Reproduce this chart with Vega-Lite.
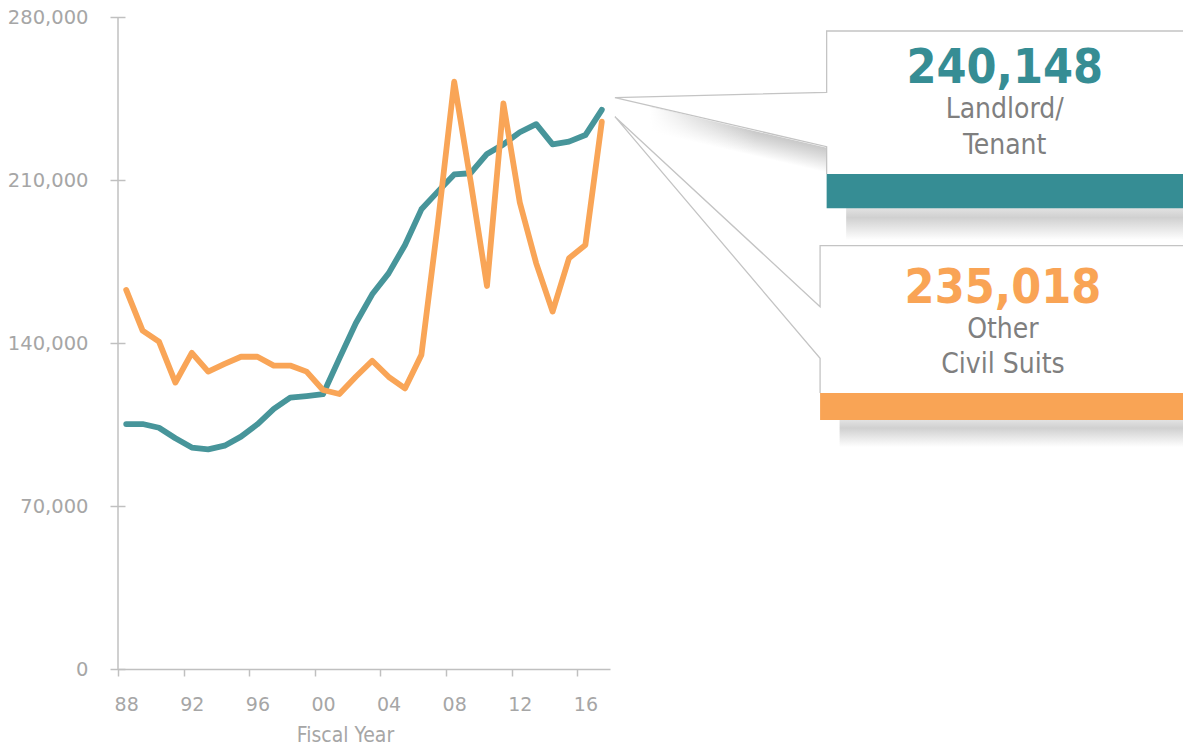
{
  "$schema": "https://vega.github.io/schema/vega-lite/v6.json",
  "width": 492,
  "height": 652,
  "autosize": {"type": "none"},
  "padding": {"left": 118, "top": 17, "right": 573, "bottom": 77},
  "background": "#ffffff",
  "config": {"view": {"stroke": null}},
  "datasets": {
    "cases": [
      {"year": 1988, "series": "Landlord/Tenant", "value": 105200},
      {"year": 1989, "series": "Landlord/Tenant", "value": 105200},
      {"year": 1990, "series": "Landlord/Tenant", "value": 103600},
      {"year": 1991, "series": "Landlord/Tenant", "value": 99100},
      {"year": 1992, "series": "Landlord/Tenant", "value": 95100},
      {"year": 1993, "series": "Landlord/Tenant", "value": 94300},
      {"year": 1994, "series": "Landlord/Tenant", "value": 95900},
      {"year": 1995, "series": "Landlord/Tenant", "value": 99800},
      {"year": 1996, "series": "Landlord/Tenant", "value": 105100},
      {"year": 1997, "series": "Landlord/Tenant", "value": 111700},
      {"year": 1998, "series": "Landlord/Tenant", "value": 116500},
      {"year": 1999, "series": "Landlord/Tenant", "value": 117200},
      {"year": 2000, "series": "Landlord/Tenant", "value": 118000},
      {"year": 2001, "series": "Landlord/Tenant", "value": 133400},
      {"year": 2002, "series": "Landlord/Tenant", "value": 148500},
      {"year": 2003, "series": "Landlord/Tenant", "value": 160900},
      {"year": 2004, "series": "Landlord/Tenant", "value": 169900},
      {"year": 2005, "series": "Landlord/Tenant", "value": 182100},
      {"year": 2006, "series": "Landlord/Tenant", "value": 197400},
      {"year": 2007, "series": "Landlord/Tenant", "value": 205000},
      {"year": 2008, "series": "Landlord/Tenant", "value": 212400},
      {"year": 2009, "series": "Landlord/Tenant", "value": 212900},
      {"year": 2010, "series": "Landlord/Tenant", "value": 221200},
      {"year": 2011, "series": "Landlord/Tenant", "value": 225300},
      {"year": 2012, "series": "Landlord/Tenant", "value": 230500},
      {"year": 2013, "series": "Landlord/Tenant", "value": 234000},
      {"year": 2014, "series": "Landlord/Tenant", "value": 225300},
      {"year": 2015, "series": "Landlord/Tenant", "value": 226500},
      {"year": 2016, "series": "Landlord/Tenant", "value": 229300},
      {"year": 2017, "series": "Landlord/Tenant", "value": 240148},
      {"year": 1988, "series": "Other Civil Suits", "value": 162800},
      {"year": 1989, "series": "Other Civil Suits", "value": 145300},
      {"year": 1990, "series": "Other Civil Suits", "value": 140600},
      {"year": 1991, "series": "Other Civil Suits", "value": 123000},
      {"year": 1992, "series": "Other Civil Suits", "value": 135800},
      {"year": 1993, "series": "Other Civil Suits", "value": 127700},
      {"year": 1994, "series": "Other Civil Suits", "value": 131000},
      {"year": 1995, "series": "Other Civil Suits", "value": 134100},
      {"year": 1996, "series": "Other Civil Suits", "value": 134100},
      {"year": 1997, "series": "Other Civil Suits", "value": 130300},
      {"year": 1998, "series": "Other Civil Suits", "value": 130300},
      {"year": 1999, "series": "Other Civil Suits", "value": 127700},
      {"year": 2000, "series": "Other Civil Suits", "value": 119800},
      {"year": 2001, "series": "Other Civil Suits", "value": 118100},
      {"year": 2002, "series": "Other Civil Suits", "value": 125500},
      {"year": 2003, "series": "Other Civil Suits", "value": 132400},
      {"year": 2004, "series": "Other Civil Suits", "value": 125500},
      {"year": 2005, "series": "Other Civil Suits", "value": 120500},
      {"year": 2006, "series": "Other Civil Suits", "value": 134900},
      {"year": 2007, "series": "Other Civil Suits", "value": 191200},
      {"year": 2008, "series": "Other Civil Suits", "value": 252200},
      {"year": 2009, "series": "Other Civil Suits", "value": 209500},
      {"year": 2010, "series": "Other Civil Suits", "value": 164500},
      {"year": 2011, "series": "Other Civil Suits", "value": 242900},
      {"year": 2012, "series": "Other Civil Suits", "value": 200300},
      {"year": 2013, "series": "Other Civil Suits", "value": 174200},
      {"year": 2014, "series": "Other Civil Suits", "value": 153500},
      {"year": 2015, "series": "Other Civil Suits", "value": 176400},
      {"year": 2016, "series": "Other Civil Suits", "value": 182100},
      {"year": 2017, "series": "Other Civil Suits", "value": 235018}
    ],
    "axisline": [
      {"year": 1987.5, "value": 0, "value2": 280000}
    ],
    "outline": [
      {"box": "Landlord/Tenant", "step": 1, "year": 2030.71, "value": 212577},
      {"box": "Landlord/Tenant", "step": 2, "year": 2030.71, "value": 224301},
      {"box": "Landlord/Tenant", "step": 3, "year": 2017.8, "value": 245344},
      {"box": "Landlord/Tenant", "step": 4, "year": 2030.71, "value": 247663},
      {"box": "Landlord/Tenant", "step": 5, "year": 2030.71, "value": 273988},
      {"box": "Landlord/Tenant", "step": 6, "year": 2053, "value": 273988},
      {"box": "Other Civil Suits", "step": 1, "year": 2030.31, "value": 118528},
      {"box": "Other Civil Suits", "step": 2, "year": 2030.31, "value": 133429},
      {"box": "Other Civil Suits", "step": 3, "year": 2017.8, "value": 237185},
      {"box": "Other Civil Suits", "step": 4, "year": 2030.31, "value": 155589},
      {"box": "Other Civil Suits", "step": 5, "year": 2030.31, "value": 181785},
      {"box": "Other Civil Suits", "step": 6, "year": 2053, "value": 181785}
    ],
    "bars": [
      {"series": "Landlord/Tenant", "year": 2030.71, "year2": 2053, "value": 197847, "value2": 212577},
      {"series": "Other Civil Suits", "year": 2030.31, "year2": 2053, "value": 106933, "value2": 118528}
    ],
    "barshadows": [
      {"series": "Landlord/Tenant", "year": 2031.9, "year2": 2053, "value": 184233, "value2": 197976},
      {"series": "Other Civil Suits", "year": 2031.5, "year2": 2053, "value": 95337, "value2": 106933}
    ],
    "pointershadow": [
      {"year": 2019.94, "value": 241436, "value2": 230699},
      {"year": 2030.71, "value": 223871, "value2": 213135}
    ],
    "callouttext": [
      {"series": "Landlord/Tenant", "kind": "number", "year": 2041.57, "value": 251528, "text": "240,148"},
      {"series": "Landlord/Tenant", "kind": "label", "year": 2041.57, "value": 236626, "text": "Landlord/"},
      {"series": "Landlord/Tenant", "kind": "label", "year": 2041.57, "value": 221166, "text": "Tenant"},
      {"series": "Other Civil Suits", "kind": "number", "year": 2041.46, "value": 157307, "text": "235,018"},
      {"series": "Other Civil Suits", "kind": "label", "year": 2041.46, "value": 142018, "text": "Other"},
      {"series": "Other Civil Suits", "kind": "label", "year": 2041.46, "value": 126988, "text": "Civil Suits"}
    ]
  },
  "encoding": {
    "x": {
      "field": "year", "type": "quantitative",
      "scale": {"domain": [1987.5, 2017.5], "nice": false, "zero": false},
      "axis": {
        "values": [1988, 1992, 1996, 2000, 2004, 2008, 2012, 2016],
        "labelExpr": "slice('0' + (datum.value % 100), -2)",
        "grid": false,
        "tickOffset": -8.2,
        "labelOffset": 8.2,
        "tickSize": 7,
        "tickColor": "#c0c0c0",
        "tickWidth": 1.5,
        "domainColor": "#c0c0c0",
        "domainWidth": 1.5,
        "labelFont": "DejaVu Sans",
        "labelFontSize": 19,
        "labelColor": "#a6a6a6",
        "labelBaseline": "alphabetic",
        "labelPadding": 34,
        "labelFlush": false,
        "labelOverlap": false,
        "title": "Fiscal Year",
        "titleFont": "DejaVu Sans Condensed",
        "titleFontSize": 21,
        "titleFontWeight": "normal",
        "titleColor": "#a6a6a6",
        "titleX": 227,
        "titleY": 72,
        "titleAlign": "center",
        "titleBaseline": "alphabetic"
      }
    },
    "y": {
      "field": "value", "type": "quantitative",
      "scale": {"domain": [0, 280000], "nice": false},
      "axis": {
        "values": [0, 70000, 140000, 210000, 280000],
        "labelExpr": "format(datum.value, ',')",
        "grid": false,
        "domain": false,
        "offset": -7,
        "tickSize": 15,
        "tickColor": "#c0c0c0",
        "tickWidth": 1.5,
        "labelFont": "DejaVu Sans",
        "labelFontSize": 19.5,
        "labelColor": "#a6a6a6",
        "labelPadding": 22,
        "labelFlush": false,
        "labelOverlap": false,
        "title": null
      }
    }
  },
  "layer": [
    {
      "data": {"name": "barshadows"},
      "mark": {
        "type": "rect",
        "clip": false,
        "fill": {
          "gradient": "linear", "x1": 0, "y1": 0, "x2": 0, "y2": 1,
          "stops": [
            {"offset": 0, "color": "#e2e2e2"},
            {"offset": 0.3, "color": "#d0d0d0"},
            {"offset": 1, "color": "#ffffff"}
          ]
        }
      },
      "encoding": {
        "x2": {"field": "year2"},
        "y2": {"field": "value2"}
      }
    },
    {
      "data": {"name": "pointershadow"},
      "mark": {
        "type": "area", "clip": false, "orient": "vertical",
        "fill": {
          "gradient": "linear", "x1": 0, "y1": 0, "x2": -0.17, "y2": 0.274,
          "stops": [
            {"offset": 0, "color": "#c8c8c8"},
            {"offset": 0.35, "color": "#dadada"},
            {"offset": 1, "color": "#ffffff"}
          ]
        }
      },
      "encoding": {
        "y2": {"field": "value2"}
      }
    },
    {
      "data": {"name": "pointershadow"},
      "mark": {
        "type": "area", "clip": false, "orient": "vertical",
        "fill": {
          "gradient": "linear", "x1": 0, "y1": 0, "x2": 1, "y2": 0,
          "stops": [
            {"offset": 0, "color": "rgba(255,255,255,1)"},
            {"offset": 0.25, "color": "rgba(255,255,255,0.5)"},
            {"offset": 0.6, "color": "rgba(255,255,255,0)"},
            {"offset": 1, "color": "rgba(255,255,255,0)"}
          ]
        }
      },
      "encoding": {
        "y2": {"field": "value2"}
      }
    },
    {
      "data": {"name": "outline"},
      "mark": {"type": "line", "clip": false, "color": "#c4c4c4", "strokeWidth": 1.3, "strokeJoin": "miter"},
      "encoding": {
        "detail": {"field": "box"},
        "order": {"field": "step", "type": "quantitative"}
      }
    },
    {
      "data": {"name": "bars"},
      "mark": {"type": "rect", "clip": false},
      "encoding": {
        "x2": {"field": "year2"},
        "y2": {"field": "value2"},
        "color": {
          "field": "series", "type": "nominal", "legend": null,
          "scale": {"domain": ["Landlord/Tenant", "Other Civil Suits"], "range": ["#368d94", "#f9a455"]}
        }
      }
    },
    {
      "data": {"name": "callouttext"},
      "transform": [{"filter": "datum.kind === 'number'"}],
      "mark": {"type": "text", "clip": false, "align": "center", "baseline": "alphabetic", "font": "DejaVu Sans Condensed", "fontWeight": "bold", "fontSize": 48},
      "encoding": {
        "text": {"field": "text"},
        "color": {
          "field": "series", "type": "nominal", "legend": null,
          "scale": {"domain": ["Landlord/Tenant", "Other Civil Suits"], "range": ["#368d94", "#f9a455"]}
        }
      }
    },
    {
      "data": {"name": "callouttext"},
      "transform": [{"filter": "datum.kind === 'label'"}],
      "mark": {"type": "text", "clip": false, "align": "center", "baseline": "alphabetic", "font": "DejaVu Sans Condensed", "fontSize": 28, "color": "#7f7f7f"},
      "encoding": {
        "text": {"field": "text"}
      }
    },
    {
      "data": {"name": "axisline"},
      "mark": {"type": "rule", "color": "#c0c0c0", "strokeWidth": 1.5},
      "encoding": {
        "y2": {"field": "value2"}
      }
    },
    {
      "data": {"name": "cases"},
      "mark": {"type": "line", "strokeWidth": 5.8, "strokeCap": "round", "strokeJoin": "round"},
      "encoding": {
        "color": {
          "field": "series", "type": "nominal", "legend": null,
          "scale": {"domain": ["Landlord/Tenant", "Other Civil Suits"], "range": ["#47959a", "#f9a557"]}
        }
      }
    }
  ],
  "resolve": {"scale": {"color": "independent"}}
}
